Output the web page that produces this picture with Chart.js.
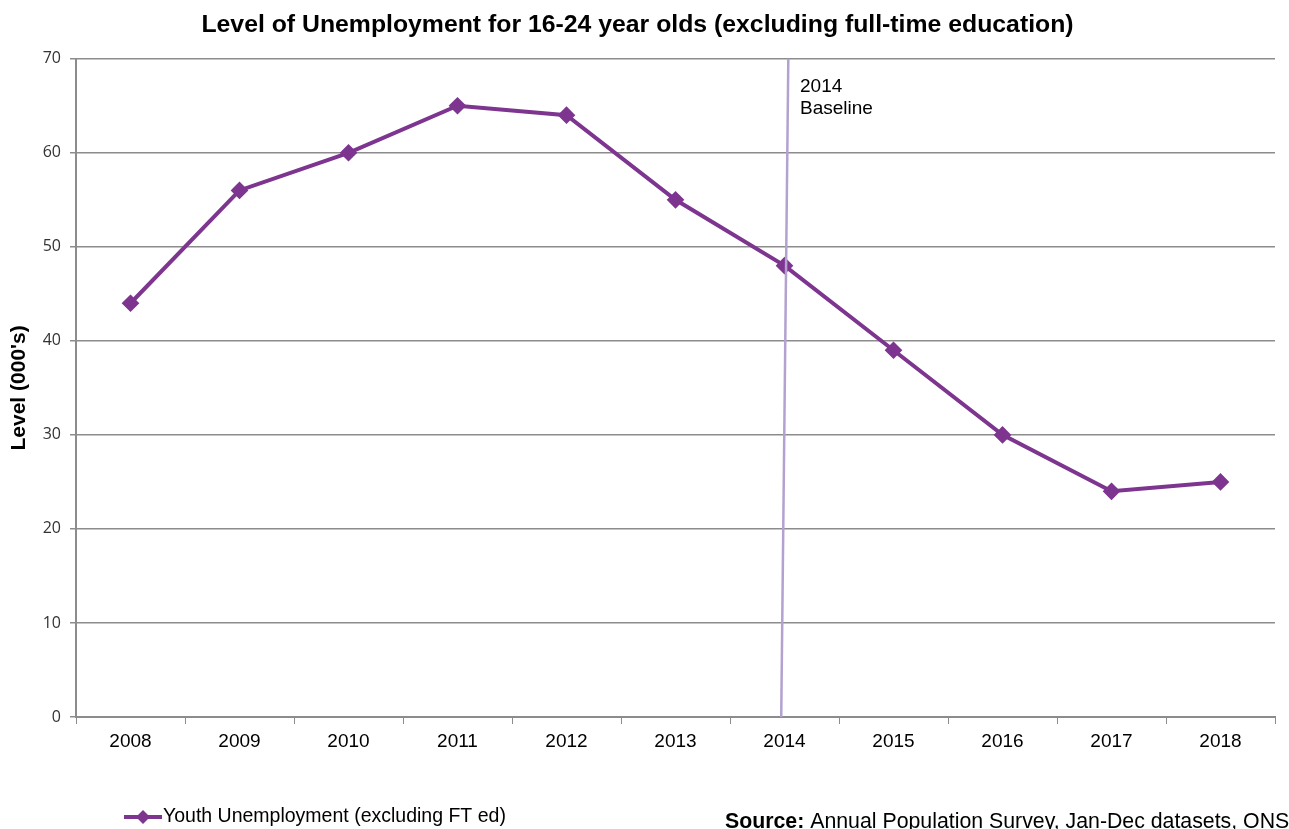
<!DOCTYPE html>
<html>
<head>
<meta charset="utf-8">
<script src="https://cdn.jsdelivr.net/npm/chart.js@4"></script>
<style>
  html, body { margin: 0; padding: 0; background: #fff; }
  #wrap { width: 1289px; height: 829px; }
</style>
</head>
<body>
<div id="wrap"><canvas id="chart" width="1289" height="829"></canvas></div>
<script>
// datos del grafico
const years = ['2008', '2009', '2010', '2011', '2012', '2013', '2014', '2015', '2016', '2017', '2018'];
const youthUnemployment = [44, 56, 60, 65, 64, 55, 48, 39, 30, 24, 25];
const yTicks = [0, 10, 20, 30, 40, 50, 60, 70];
const baselineYear = '2014';

const purple = '#7D3590';
const grey = '#8c8c8c';
const arial = '"Liberation Sans", Arial, sans-serif';

// linea vertical de 2014, etiqueta, leyenda y fuente
const extras = {
    id: 'extras',
    afterDatasetsDraw(chart) {
        const ctx = chart.ctx;
        const x = chart.scales.x;
        const y = chart.scales.y;
        const idx = years.indexOf(baselineYear);
        const xb = x.getPixelForValue(idx - 0.03);
        const xt = x.getPixelForValue(idx + 0.035);

        ctx.save();
        ctx.strokeStyle = '#B3A2CF';
        ctx.lineWidth = 2.5;
        ctx.beginPath();
        ctx.moveTo(xb, y.getPixelForValue(0));
        ctx.lineTo(xt, y.getPixelForValue(70));
        ctx.stroke();

        ctx.fillStyle = '#000';
        ctx.font = '19px ' + arial;
        ctx.textBaseline = 'middle';
        ctx.textAlign = 'left';
        ctx.fillText('2014', 800, 87);
        ctx.fillText('Baseline', 800, 109);

        // leyenda
        ctx.strokeStyle = purple;
        ctx.lineWidth = 4;
        ctx.beginPath();
        ctx.moveTo(124, 817);
        ctx.lineTo(162, 817);
        ctx.stroke();
        ctx.fillStyle = purple;
        ctx.beginPath();
        ctx.moveTo(143, 810);
        ctx.lineTo(150, 817);
        ctx.lineTo(143, 824);
        ctx.lineTo(136, 817);
        ctx.closePath();
        ctx.fill();
        ctx.fillStyle = '#000';
        ctx.font = '19.5px ' + arial;
        ctx.fillText('Youth Unemployment (excluding FT ed)', 163, 817);

        // fuente
        ctx.textAlign = 'left';
        ctx.textBaseline = 'alphabetic';
        ctx.font = 'bold 21.3px ' + arial;
        ctx.fillText('Source:', 725, 828);
        const w = ctx.measureText('Source:').width;
        ctx.font = '21.3px ' + arial;
        ctx.fillText(' Annual Population Survey, Jan-Dec datasets, ONS', 725 + w, 828);
        ctx.restore();
    }
};

new Chart(document.getElementById('chart'), {
    type: 'line',
    data: {
        labels: years,
        datasets: [{
            label: 'Youth Unemployment (excluding FT ed)',
            data: youthUnemployment,
            borderColor: purple,
            backgroundColor: purple,
            borderWidth: 4,
            pointStyle: 'rectRot',
            pointRadius: 6,
            pointHoverRadius: 6,
            tension: 0
        }]
    },
    options: {
        responsive: false,
        animation: false,
        layout: { padding: { top: 0, right: 14, bottom: 0, left: 0 } },
        plugins: {
            legend: { display: false },
            tooltip: { enabled: false },
            title: {
                display: true,
                text: 'Level of Unemployment for 16-24 year olds (excluding full-time education)',
                color: '#000',
                font: { family: arial, size: 24.8, weight: 'bold' },
                padding: { top: 10, bottom: 19 }
            }
        },
        scales: {
            x: {
                offset: true,
                grid: {
                    offset: true,
                    drawOnChartArea: false,
                    drawTicks: true,
                    tickLength: 7,
                    color: grey
                },
                border: { color: grey, width: 2 },
                ticks: {
                    color: '#000',
                    padding: 6,
                    maxRotation: 0,
                    font: { family: arial, size: 19 }
                },
                afterFit(scale) { scale.height = 112; }
            },
            y: {
                min: 0,
                max: 70,
                afterBuildTicks(scale) { scale.ticks = yTicks.map(v => ({ value: v })); },
                grid: { color: grey, lineWidth: 1.5, tickLength: 6 },
                border: { color: grey, width: 2 },
                ticks: {
                    color: '#333',
                    padding: 9,
                    font: { family: '"Open Sans", "Liberation Sans", sans-serif', size: 16 }
                },
                title: {
                    display: true,
                    text: "Level (000's)",
                    color: '#000',
                    font: { family: arial, size: 21, weight: 'bold' },
                    padding: { top: 7, bottom: 0 }
                },
                afterFit(scale) { scale.width = 76; }
            }
        }
    },
    plugins: [extras]
});
</script>
</body>
</html>
